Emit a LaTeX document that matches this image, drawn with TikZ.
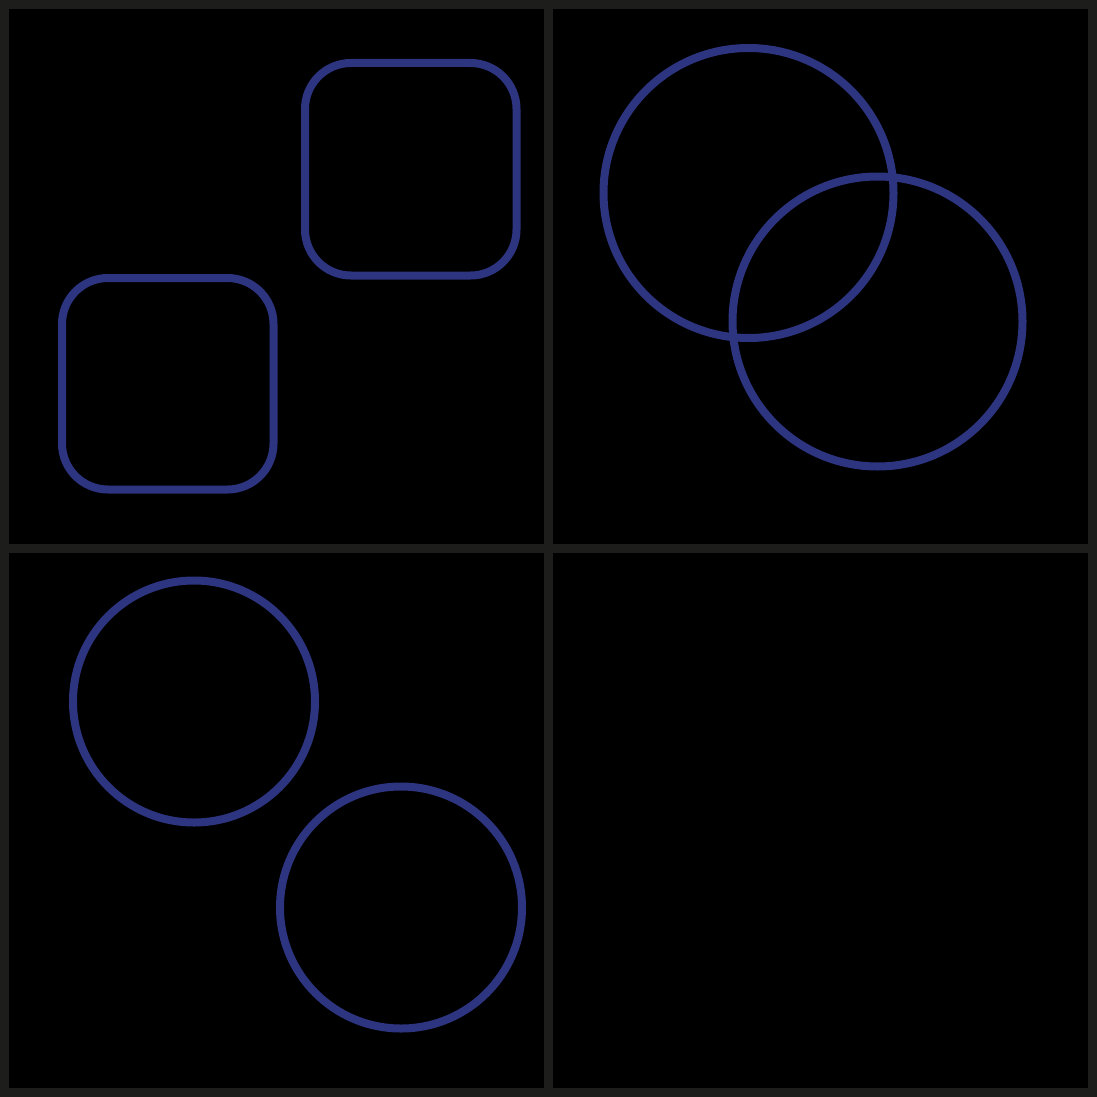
\documentclass[tikz,border=0pt]{standalone}
\usepackage{xcolor}
\usepackage{tikz}

\definecolor{gridgray}{HTML}{1D1D1B}
\definecolor{shapeblue}{HTML}{2E3580}

\begin{document}
\begin{tikzpicture}[
  x=1pt,
  y=-1pt,
  gridline/.style={draw=gridgray, line width=9pt},
  shapeline/.style={draw=shapeblue, line width=8pt},
]
\path[use as bounding box] (0,0) rectangle (1097,1097);

% Background.
\fill[black] (0,0) rectangle (1097,1097);

% Quadrant frame.
\draw[gridline] (4.5,4.5) rectangle (1092.5,1092.5);
\draw[gridline] (548.5,4.5) -- (548.5,1092.5);
\draw[gridline] (4.5,548) -- (1092.5,548);

% Top left: two rounded squares.
\draw[shapeline, rounded corners=46pt] (305,63) rectangle (516.5,275.5);
\draw[shapeline, rounded corners=46pt] (62,278) rectangle (273.5,489.5);

% Top right: overlapping circles.
\draw[shapeline] (748.5,193) circle[radius=145];
\draw[shapeline] (877.5,321.5) circle[radius=145];

% Bottom left: separate circles.
\draw[shapeline] (194,701.5) circle[radius=121];
\draw[shapeline] (401,907.5) circle[radius=121];

\end{tikzpicture}
\end{document}
